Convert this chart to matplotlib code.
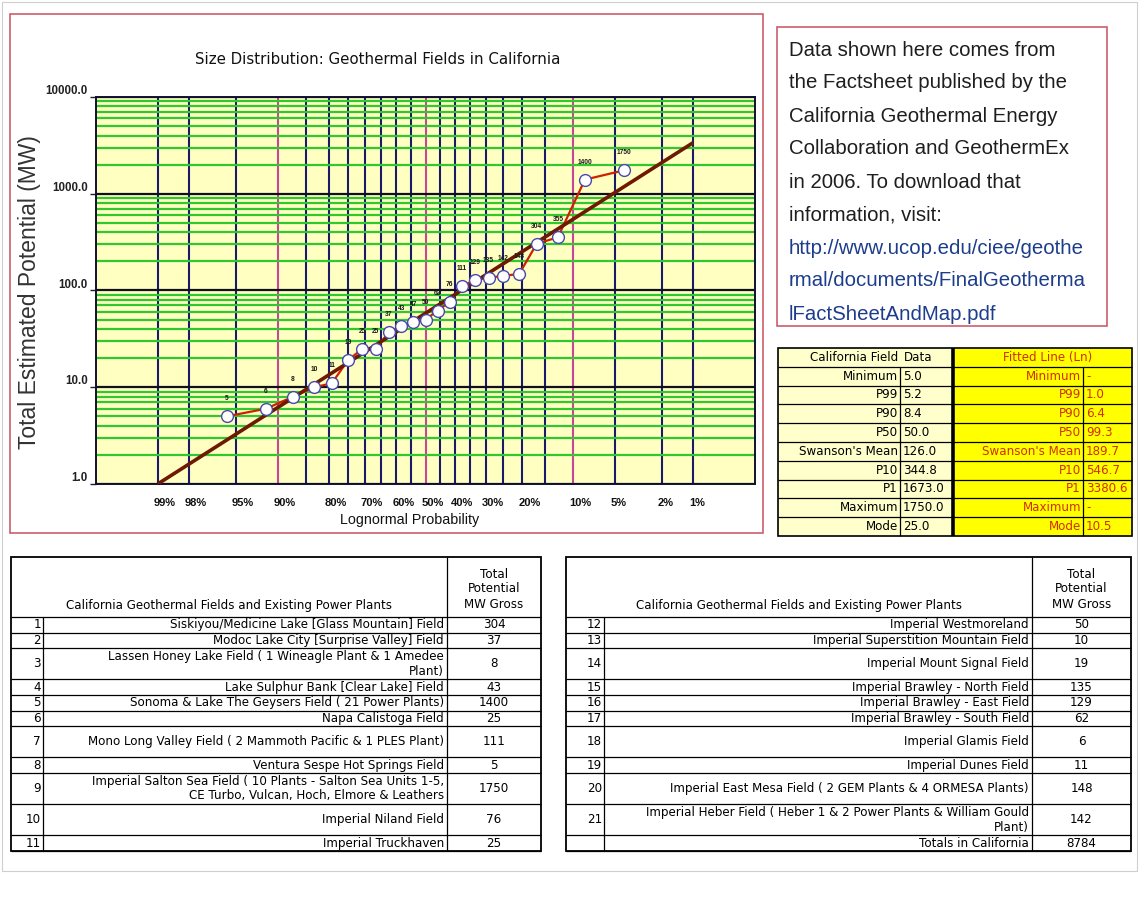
import numpy as np
import matplotlib
matplotlib.use('Agg')
import matplotlib.pyplot as plt
from matplotlib.patches import Rectangle
from matplotlib.ticker import FixedLocator, FixedFormatter, LogLocator, NullFormatter, NullLocator
import matplotlib.transforms as mtransforms
from statistics import NormalDist

plt.rcParams['font.family'] = ['Liberation Sans', 'DejaVu Sans']

W, H, DPI = 1139, 901, 100

# ---------------- data ----------------
field_values = [5, 6, 8, 10, 11, 19, 25, 25, 37, 43, 47, 50, 62, 76, 111, 129, 135,
                142, 148, 304, 355, 1400, 1750]
exceed_pct = [95.8, 91.7, 87.5, 83.3, 79.2, 75.0, 70.8, 66.7, 62.5, 58.3, 54.2, 50.0,
              45.8, 41.7, 37.5, 33.3, 29.2, 25.0, 20.8, 16.7, 12.5, 8.3, 4.2]
fit_pct = [99, 1]
fit_values = [1.0, 3380.6]

prob_ticks = [99, 98, 95, 90, 80, 70, 60, 50, 40, 30, 20, 10, 5, 2, 1]
prob_labels = ['99%', '98%', '95%', '90%', '80%', '70%', '60%', '50%', '40%', '30%',
               '20%', '10%', '5%', '2%', '1%']
grid_pct = [99, 98, 95, 90, 85, 80, 75, 70, 65, 60, 55, 50, 45, 40, 35, 30, 25, 20,
            15, 10, 5, 2, 1]
pink_pct = [90, 50, 10]
y_ticks = [1, 10, 100, 1000, 10000]
y_labels = ['1.0', '10.0', '100.0', '1000.0', '10000.0']

info_lines = ['Data shown here comes from', 'the Factsheet published by the',
              'California Geothermal Energy', 'Collaboration and GeothermEx',
              'in 2006. To download that', 'information, visit:']
url_lines = ['http://www.ucop.edu/ciee/geothe', 'rmal/documents/FinalGeotherma',
             'lFactSheetAndMap.pdf']

stat_labels = ['Minimum', 'P99', 'P90', 'P50', "Swanson's Mean", 'P10', 'P1',
               'Maximum', 'Mode']
stat_data = ['5.0', '5.2', '8.4', '50.0', '126.0', '344.8', '1673.0', '1750.0', '25.0']
stat_fit = ['-', '1.0', '6.4', '99.3', '189.7', '546.7', '3380.6', '-', '10.5']

left_nums = ['1', '2', '3', '4', '5', '6', '7', '8', '9', '10', '11']
left_names = ['Siskiyou/Medicine Lake [Glass Mountain] Field',
              'Modoc Lake City [Surprise Valley] Field',
              'Lassen Honey Lake Field ( 1 Wineagle Plant & 1 Amedee\nPlant)',
              'Lake Sulphur Bank [Clear Lake] Field',
              'Sonoma & Lake The Geysers Field ( 21 Power Plants)',
              'Napa Calistoga Field',
              'Mono Long Valley Field ( 2 Mammoth Pacific & 1 PLES Plant)',
              'Ventura Sespe Hot Springs Field',
              'Imperial Salton Sea Field ( 10 Plants - Salton Sea Units 1-5,\nCE Turbo, Vulcan, Hoch, Elmore & Leathers',
              'Imperial Niland Field',
              'Imperial Truckhaven']
left_vals = ['304', '37', '8', '43', '1400', '25', '111', '5', '1750', '76', '25']

right_nums = ['12', '13', '14', '15', '16', '17', '18', '19', '20', '21', '']
right_names = ['Imperial Westmoreland',
               'Imperial Superstition Mountain Field',
               'Imperial Mount Signal Field',
               'Imperial Brawley - North Field',
               'Imperial Brawley - East Field',
               'Imperial Brawley - South Field',
               'Imperial Glamis Field',
               'Imperial Dunes Field',
               'Imperial East Mesa Field ( 2 GEM Plants & 4 ORMESA Plants)',
               'Imperial Heber Field ( Heber 1 & 2 Power Plants & William Gould\nPlant)',
               'Totals in California']
right_vals = ['50', '10', '19', '135', '129', '62', '6', '11', '148', '142', '8784']
row_units = [1, 1, 2, 1, 1, 1, 2, 1, 2, 2, 1]

# ---------------- figure ----------------
fig = plt.figure(figsize=(W / DPI, H / DPI), dpi=DPI)
fig.patch.set_facecolor('white')
ov = fig.add_axes([0, 0, 1, 1])
ov.set_xlim(0, W)
ov.set_ylim(H, 0)
ov.axis('off')

BOX = '#C85060'
WIDE = ['DejaVu Sans']


def rect(x0, y0, x1, y1, fc='none', ec='black', lw=1.0, z=1):
    ov.add_patch(Rectangle((x0, y0), x1 - x0, y1 - y0, facecolor=fc, edgecolor=ec,
                           linewidth=lw, zorder=z))


def seg(x0, y0, x1, y1, color='black', lw=0.9, z=3):
    ov.plot([x0, x1], [y0, y1], color=color, lw=lw, zorder=z, solid_capstyle='butt')


# outer page frame
rect(1.5, 1.5, 1136.5, 871, ec='#CFCFCF', lw=0.8)

# chart box
rect(10, 14, 763, 533, fc='white', ec=BOX, lw=1.1)
ov.text(378, 60, 'Size Distribution: Geothermal Fields in California', ha='center',
        va='center', fontsize=10.8, color='#111111', family=WIDE)
ov.text(30, 292, 'Total Estimated Potential (MW)', rotation=90, ha='center',
        va='center', fontsize=16.5, color='#333333')
ov.text(410, 520, 'Lognormal Probability', ha='center', va='center', fontsize=10.3,
        color='#111111')

# info box
rect(777, 27, 1107, 326, fc='white', ec=BOX, lw=1.1)
ly = 50
for t in info_lines:
    ov.text(789, ly, t, ha='left', va='center', fontsize=14.7, color='#1E1E1E')
    ly += 33
for t in url_lines:
    ov.text(789, ly, t, ha='left', va='center', fontsize=14.7, color='#1C3C8C')
    ly += 33

# ---------------- probability chart ----------------
_nd = NormalDist()


def _fwd(p):
    p = np.clip(np.asarray(p, dtype=float), 1e-7, 100 - 1e-7)
    return np.vectorize(lambda v: _nd.inv_cdf(v / 100.0), otypes=[float])(p)


def _inv(z):
    z = np.asarray(z, dtype=float)
    return np.vectorize(lambda v: 100.0 * _nd.cdf(v), otypes=[float])(z)


ax = fig.add_axes([96 / W, 1 - 484 / H, (755 - 96) / W, (484 - 97) / H])
ax.set_xscale('function', functions=(_fwd, _inv))
ax.set_yscale('log')
ax.set_xlim(99.79, 0.21)
ax.set_ylim(1, 10000)
ax.set_facecolor('#FFFFC2')

ax.yaxis.set_major_locator(FixedLocator(y_ticks))
ax.yaxis.set_major_formatter(FixedFormatter(y_labels))
ax.yaxis.set_minor_locator(LogLocator(base=10, subs=range(2, 10)))
ax.yaxis.set_minor_formatter(NullFormatter())
ax.grid(which='minor', axis='y', color='#30C830', lw=1.6, zorder=0)
ax.grid(which='major', axis='y', color='#101020', lw=1.6, zorder=0.5)
ax.tick_params(axis='y', which='major', length=4, width=1, pad=2, labelsize=8.3,
               colors='#222222')
ax.tick_params(axis='y', which='minor', length=0)
for lab in ax.get_yticklabels():
    lab.set_fontweight('bold')
    lab.set_va('bottom')

for p in grid_pct:
    ax.axvline(p, color='#CC4499' if p in pink_pct else '#1A1A6A', lw=1.5, zorder=0.6)

ax.xaxis.set_major_locator(FixedLocator(prob_ticks))
ax.xaxis.set_major_formatter(FixedFormatter(prob_labels))
ax.xaxis.set_minor_locator(NullLocator())
ax.tick_params(axis='x', length=0, pad=10, labelsize=8, colors='#111111')
shift = mtransforms.ScaledTranslation(-3 / 72, 0, fig.dpi_scale_trans)
for lab in ax.get_xticklabels():
    lab.set_ha('left')
    lab.set_fontweight('bold')
    lab.set_transform(lab.get_transform() + shift)

for s in ax.spines.values():
    s.set_color('#101030')
    s.set_linewidth(1.4)

ax.plot(exceed_pct, field_values, color='#D02000', lw=1.6, zorder=3)
ax.plot(fit_pct, fit_values, color='#6E1A00', lw=2.6, zorder=4,
        solid_capstyle='butt')
ax.plot(exceed_pct, field_values, ls='none', marker='o', ms=8.5, mfc='white',
        mec='#4A48B0', mew=1.0, zorder=5)
for p, v in zip(exceed_pct, field_values):
    ax.annotate(str(v), (p, v), xytext=(0, 10), textcoords='offset points',
                ha='center', va='bottom', fontsize=4.8, fontweight='bold',
                color='#1A1A1A', zorder=6)

# ---------------- statistics table ----------------
sx0, sx1, sx2, sx3, sx4 = 778, 900, 953, 1083, 1132
st_top, st_h = 348, 18.8
n_st = len(stat_labels) + 1
st_bot = st_top + n_st * st_h
rect(sx0, st_top, sx2, st_bot, fc='#FFFFCC', ec='none', z=1)
rect(sx2, st_top, sx4, st_bot, fc='#FFFF00', ec='none', z=1)
for i in range(1, n_st):
    seg(sx0, st_top + i * st_h, sx4, st_top + i * st_h, lw=0.9)
seg(sx1, st_top + st_h, sx1, st_bot, lw=0.9)
seg(sx3, st_top + st_h, sx3, st_bot, lw=0.9)
seg(sx2, st_top, sx2, st_bot, lw=2.6)
rect(sx0, st_top, sx4, st_bot, ec='black', lw=1.2, z=4)
RED = '#D03000'
SF = 8.6
yc = st_top + st_h / 2
ov.text(sx1 - 2, yc, 'California Field', ha='right', va='center', fontsize=SF, family=WIDE)
ov.text(sx1 + 4, yc, 'Data', ha='left', va='center', fontsize=SF, family=WIDE)
ov.text((sx2 + sx4) / 2 + 5, yc, 'Fitted Line (Ln)', ha='center', va='center',
        fontsize=SF, color=RED, family=WIDE)
for i, (lab, dv, fv) in enumerate(zip(stat_labels, stat_data, stat_fit)):
    yc = st_top + (i + 1.5) * st_h
    ov.text(sx1 - 2, yc, lab, ha='right', va='center', fontsize=SF, family=WIDE)
    ov.text(sx1 + 3, yc, dv, ha='left', va='center', fontsize=SF, family=WIDE)
    ov.text(sx3 - 2, yc, lab, ha='right', va='center', fontsize=SF, color=RED, family=WIDE)
    ov.text(sx3 + 3, yc, fv, ha='left', va='center', fontsize=SF, color=RED, family=WIDE)


# ---------------- field tables ----------------
TF = 8.6


def field_table(cols, nums, names, vals, top=557, head_bot=617, unit=15.6):
    c0, c1, c2, c3 = cols
    ov.text((c0 + c2) / 2, head_bot - 11, 'California Geothermal Fields and Existing Power Plants',
            ha='center', va='center', fontsize=TF, family=WIDE)
    ov.text((c2 + c3) / 2, (top + head_bot) / 2 + 2, 'Total\nPotential\nMW Gross',
            ha='center', va='center', fontsize=TF, linespacing=1.2, family=WIDE)
    y = head_bot
    seg(c0, y, c3, y)
    for n, nm, v, u in zip(nums, names, vals, row_units):
        y1 = y + u * unit
        ym = (y + y1) / 2
        ov.text(c1 - 2, ym, n, ha='right', va='center', fontsize=TF, family=WIDE)
        ov.text(c2 - 3, ym, nm, ha='right', va='center', fontsize=TF, family=WIDE,
                multialignment='right', linespacing=1.15)
        ov.text((c2 + c3) / 2, ym, v, ha='center', va='center', fontsize=TF, family=WIDE)
        seg(c0, y1, c3, y1)
        y = y1
    seg(c1, head_bot, c1, y)
    seg(c2, top, c2, y)
    rect(c0, top, c3, y, ec='black', lw=1.3, z=4)


field_table([11, 43, 447, 541], left_nums, left_names, left_vals)
field_table([566, 604, 1032, 1131], right_nums, right_names, right_vals)

fig.savefig('out.png', dpi=DPI, facecolor='white')
